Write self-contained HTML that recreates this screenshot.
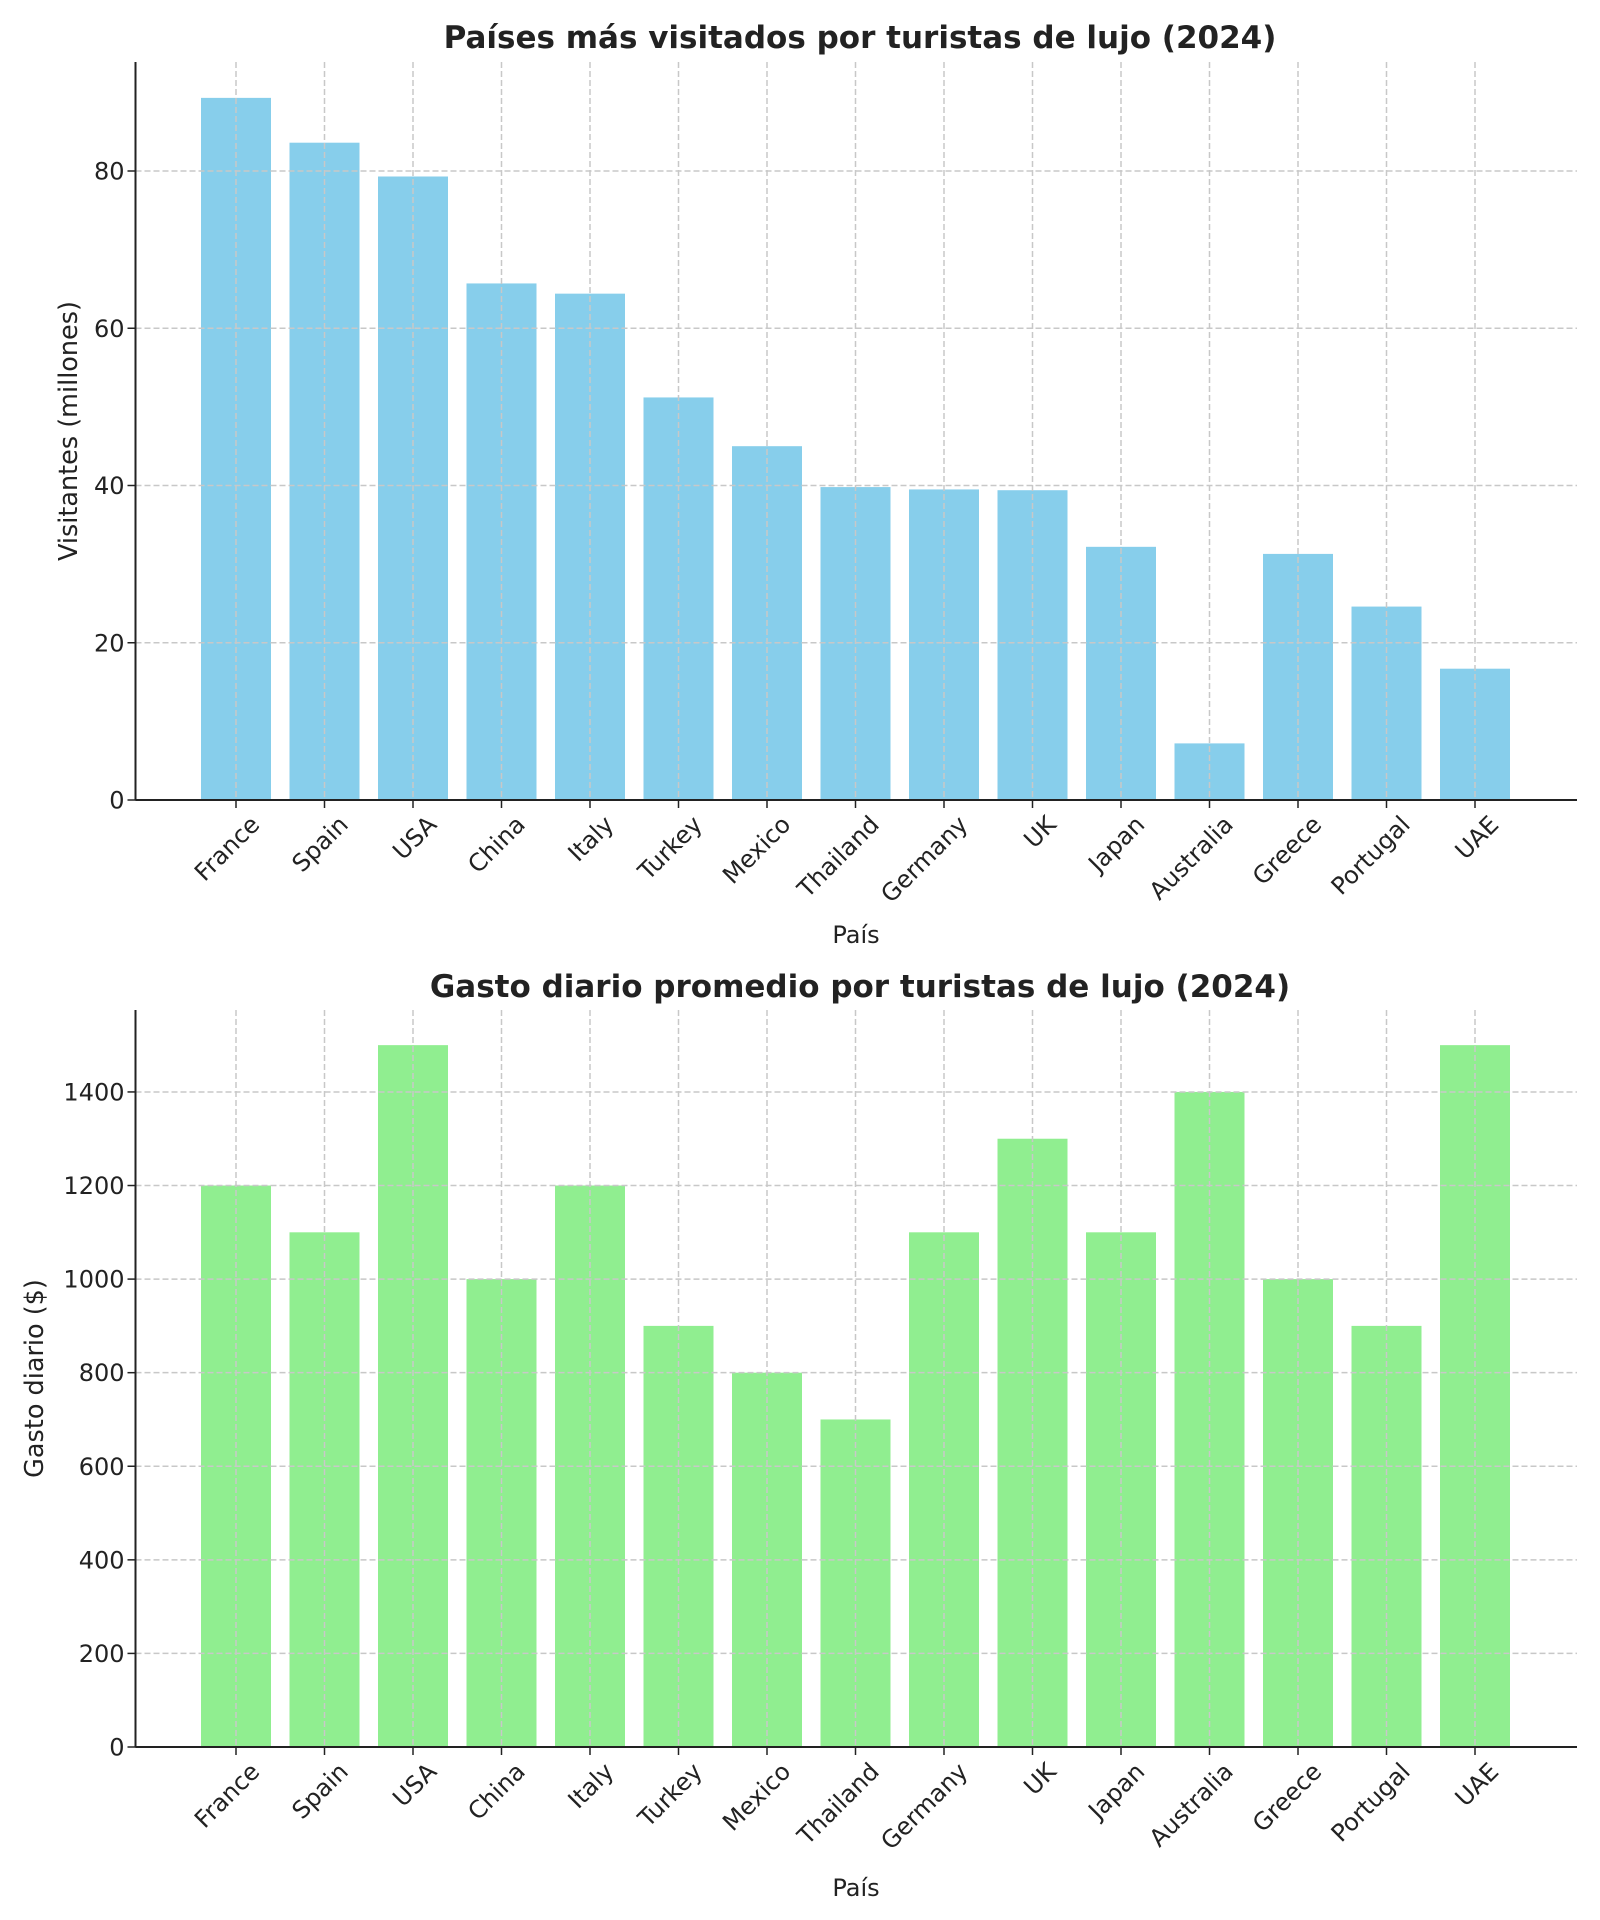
<!DOCTYPE html>
<html><head><meta charset="utf-8"><style>body{margin:0;background:#fff}svg{display:block}text{font-family:"DejaVu Sans","Liberation Sans",sans-serif;fill:#222}</style></head>
<body><svg id="s" width="1600" height="1920" xmlns="http://www.w3.org/2000/svg"></svg>
<script>
const s=document.getElementById('s');let h='';
const names=["France","Spain","USA","China","Italy","Turkey","Mexico","Thailand","Germany","UK","Japan","Australia","Greece","Portugal","UAE"];
function chart(top,bot,vals,sc,ticks,color,title,ylab,ylx,tb,lb){
 const L=135.5,R=1577;
 const Y=v=>bot-v*sc;
 names.forEach((n,i)=>{const c=236+88.5*i;const y=Y(vals[i]);h+=`<rect x="${c-35}" y="${y}" width="70" height="${bot-y}" fill="${color}"/>`;});
 names.forEach((n,i)=>{const c=236+88.5*i;h+=`<line x1="${c}" y1="${top}" x2="${c}" y2="${bot}" stroke="#c8c8c8" stroke-width="1.5" stroke-dasharray="6,3"/>`;
  h+=`<line x1="${c}" y1="${bot}" x2="${c}" y2="${bot+8}" stroke="#222" stroke-width="1.5"/>`;
  h+=`<text x="${c+25}" y="${bot+26}" font-size="24" text-anchor="end" transform="rotate(-45 ${c+25} ${bot+26})">${n}</text>`;});
 ticks.forEach(t=>{const y=Y(t);h+=`<line x1="${L}" y1="${y}" x2="${R}" y2="${y}" stroke="#c8c8c8" stroke-width="1.5" stroke-dasharray="6,3"/>`;
  h+=`<line x1="${L-8}" y1="${y}" x2="${L}" y2="${y}" stroke="#222" stroke-width="1.5"/>`;
  h+=`<text x="${L-11}" y="${y+8.5}" font-size="24" text-anchor="end">${t}</text>`;});
 h+=`<line x1="${L}" y1="${top}" x2="${L}" y2="${bot}" stroke="#222" stroke-width="2"/><line x1="${L}" y1="${bot}" x2="${R}" y2="${bot}" stroke="#222" stroke-width="2"/>`;
 h+=`<text x="860" y="${tb}" font-size="31" font-weight="bold" text-anchor="middle" fill="#333">${title}</text>`;
 h+=`<text x="856" y="${lb}" font-size="24" text-anchor="middle">País</text>`;
 const cy=(top+bot)/2;h+=`<text x="${ylx}" y="${cy}" font-size="25.5" text-anchor="middle" transform="rotate(-90 ${ylx} ${cy})">${ylab}</text>`;
}
chart(62,800,[89.3,83.6,79.3,65.7,64.4,51.2,45,39.8,39.5,39.4,32.2,7.2,31.3,24.6,16.7],7.8625,[0,20,40,60,80],"#87ceeb","Países más visitados por turistas de lujo (2024)","Visitantes (millones)",77,48,943);
chart(1010,1747,[1200,1100,1500,1000,1200,900,800,700,1100,1300,1100,1400,1000,900,1500],0.4679,[0,200,400,600,800,1000,1200,1400],"#90ee90","Gasto diario promedio por turistas de lujo (2024)","Gasto diario ($)",43,997,1896);
s.innerHTML=h;
</script></body></html>
